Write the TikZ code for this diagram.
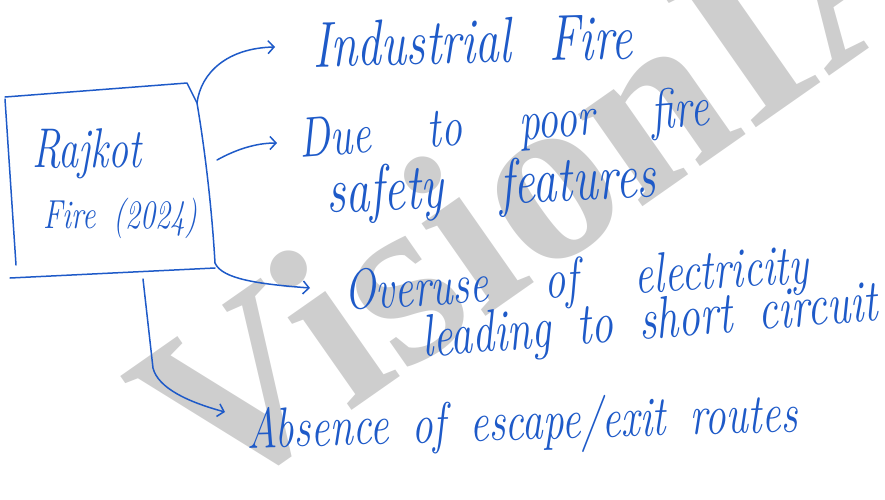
\documentclass[tikz,border=0pt]{standalone}
\usepackage{fontspec}
\newfontfamily\wmfont{Liberation Serif}
\usepackage{graphicx}
\usetikzlibrary{arrows.meta}
\definecolor{ink}{RGB}{30,90,200}
\definecolor{wmgray}{RGB}{206,206,206}
% handwriting-like line: italic, stretched to a given width, taller letters
\newcommand{\hw}[2]{\scalebox{1}[1.35]{\makebox[#1pt][s]{\itshape #2}}}
\newcommand{\fs}[1]{\fontsize{#1}{#1}\selectfont}
\begin{document}
\begin{tikzpicture}[x=1pt,y=-1pt,
  inkline/.style={draw=ink,line width=1.5pt,line cap=round,line join=round},
  arr/.style={inkline,-{Straight Barb[length=6pt,width=13pt,line width=1.5pt]}},
  txt/.style={text=ink,inner sep=0pt,anchor=base west,font=\fs{42}}]
\useasboundingbox (0,0) rectangle (885,499);
\clip (0,0) rectangle (885,499);
% watermark
\node[anchor=base west,rotate=35,inner sep=0pt,text=wmgray,
      font=\wmfont\bfseries\fs{245}] (wm) at (210,510) {VisionIAS};
% box corners
\coordinate (tl) at (5,97);
\coordinate (tr) at (187,83);
\coordinate (bl) at (10,278);
\coordinate (br) at (215,268);
\coordinate (o1) at (197,103);
\coordinate (o2) at (217,160);
\coordinate (o3) at (215,263);
\coordinate (o4) at (143,279);
\coordinate (k4) at (153,368);
% box strokes
\draw[inkline] (tl) -- (tr) -- (o1) .. controls (205,150) and (212,210) .. (o3);
\draw[inkline] (bl) -- (br);
\draw[inkline] ([yshift=-2]tl) -- (16,265);
% box text
\node[txt,font=\fs{40}] (r1) at (32,167) {\scalebox{1}[1.4]{\itshape Rajkot}};
\node[txt,font=\fs{30}] (r2) at (43,228) {\hw{154}{Fire (2024)}};
% branch texts
\node[txt,rotate=1.5,font=\fs{48}] (t1) at (313,67) {\hw{320}{Industrial Fire}};
\node[txt,rotate=4.6,font=\fs{42}] (t2) at (300,158) {\hw{411}{Due to poor fire}};
\node[txt,rotate=2.8,font=\fs{48}] (t3) at (327,213) {\hw{330}{safety features}};
\node[txt,rotate=3.3,font=\fs{42}] (t4) at (345,310) {\hw{465}{Overuse of electricity}};
\node[txt,rotate=4.6,font=\fs{44}] (t5) at (423,357) {\hw{457}{leading to short circuit}};
\node[txt,rotate=1.7,font=\fs{42}] (t6) at (247,448) {\hw{551}{Absence of escape/exit routes}};
% arrows
\draw[arr] (o1) .. controls (201,72) and (228,48) .. ([shift={(-38,-20)}]t1.base west);
\draw[arr] (o2) .. controls (235,150) and (255,143) .. ([shift={(-23,-15)}]t2.base west);
\draw[arr] (o3) .. controls (222,279) and (258,284) .. ([shift={(-35,-22)}]t4.base west);
\draw[arr] (o4) -- (k4) .. controls (158,388) and (188,402) .. ([shift={(-22,-36)}]t6.base west);
\end{tikzpicture}
\end{document}
